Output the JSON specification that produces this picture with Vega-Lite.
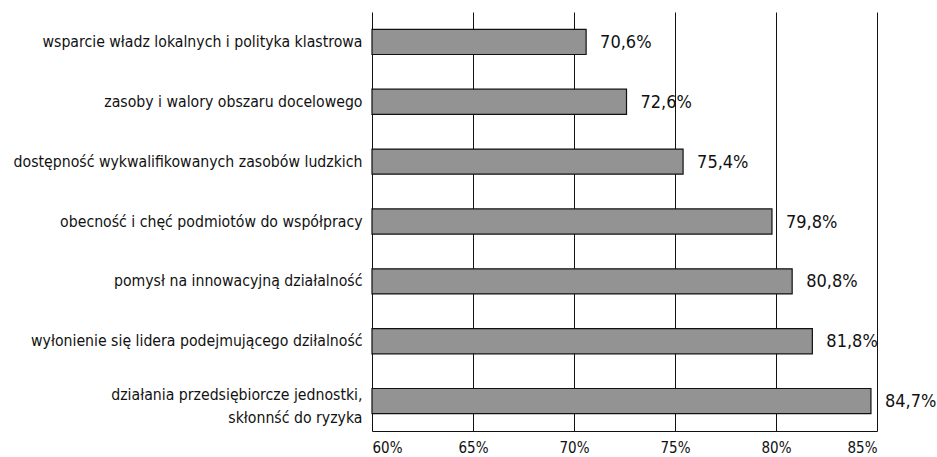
{
  "$schema": "https://vega.github.io/schema/vega-lite/v6.json",
  "width": 505,
  "height": 419,
  "autosize": {"type": "none"},
  "padding": {"left": 372, "top": 12, "right": 60, "bottom": 26},
  "background": "white",
  "config": {
    "view": {"stroke": null},
    "font": "DejaVu Sans Condensed, sans-serif"
  },
  "data": {
    "values": [
      {"cat": "wsparcie władz lokalnych i polityka klastrowa", "v": 70.6},
      {"cat": "zasoby i walory obszaru docelowego", "v": 72.6},
      {"cat": "dostępność wykwalifikowanych zasobów ludzkich", "v": 75.4},
      {"cat": "obecność i chęć podmiotów do współpracy", "v": 79.8},
      {"cat": "pomysł na innowacyjną działalność", "v": 80.8},
      {"cat": "wyłonienie się lidera podejmującego dziłalność", "v": 81.8},
      {"cat": "działania przedsiębiorcze jednostki,|skłonnść do ryzyka", "v": 84.7}
    ]
  },
  "transform": [
    {"calculate": "replace(format(datum.v, '.1f'), '.', ',') + '%'", "as": "lbl"}
  ],
  "encoding": {
    "y": {
      "field": "cat",
      "type": "nominal",
      "sort": null,
      "scale": {"paddingInner": 0.58, "paddingOuter": 0.29},
      "axis": {
        "title": null,
        "domain": false,
        "ticks": false,
        "labelPadding": 10,
        "labelFontSize": 15.7,
        "labelColor": "#111",
        "labelLimit": 400,
        "labelLineHeight": 23,
        "labelOffset": {"condition": {"test": "indexof(datum.label, '|') >= 0", "value": -6}, "value": 0},
        "labelExpr": "split(datum.label, '|')"
      }
    },
    "x": {
      "field": "v",
      "type": "quantitative",
      "scale": {"domain": [60, 85], "nice": false, "zero": false},
      "axis": {
        "title": null,
        "values": [60, 65, 70, 75, 80, 85],
        "labelExpr": "datum.value + '%'",
        "grid": true,
        "gridColor": "#111",
        "gridWidth": 1,
        "gridOpacity": 1,
        "domainColor": "#111",
        "domainWidth": 1,
        "ticks": false,
        "labelPadding": 9,
        "labelFontSize": 15,
        "labelColor": "#111"
      }
    }
  },
  "layer": [
    {
      "mark": {"type": "bar", "fill": "#939393", "stroke": "#111", "strokeWidth": 1.2},
      "encoding": {"x2": {"datum": 60}}
    },
    {
      "mark": {"type": "text", "align": "left", "baseline": "middle", "dx": 14, "dy": 1, "fontSize": 18, "color": "#111"},
      "encoding": {"text": {"field": "lbl"}}
    }
  ]
}
